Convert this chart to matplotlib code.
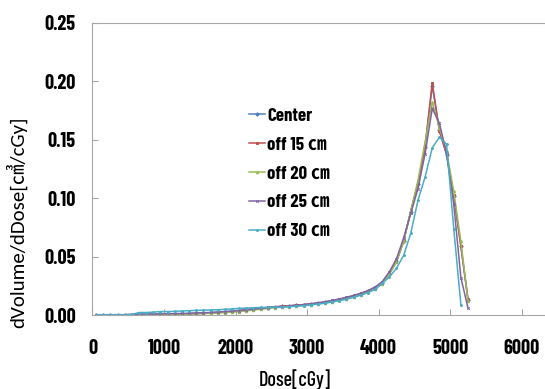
import matplotlib
matplotlib.use("Agg")
import matplotlib.pyplot as plt
import numpy as np

# dose bins (cGy), 100 cGy wide, plotted at the bin centre
dose = [50 + 100 * i for i in range(53)]

center = [0.0003, 0.0003, 0.0003, 0.0003, 0.0003, 0.0004, 0.0005, 0.0005, 0.0006, 0.0007,
          0.0008, 0.0009, 0.0010, 0.0012, 0.0014, 0.0016, 0.0019, 0.0023, 0.0027, 0.0032,
          0.0037, 0.0044, 0.0051, 0.0058, 0.0064, 0.0070, 0.0075, 0.0079, 0.0084, 0.0089,
          0.0095, 0.0102, 0.0111, 0.0121, 0.0133, 0.0147, 0.0163, 0.0182, 0.0204, 0.0231,
          0.0273, 0.0352, 0.0458, 0.0632, 0.0885, 0.1120, 0.1440, 0.1960, 0.1580, 0.1370,
          0.1020, 0.0590, 0.0130]
off15 = [0.0003, 0.0003, 0.0003, 0.0003, 0.0003, 0.0004, 0.0005, 0.0005, 0.0006, 0.0007,
         0.0008, 0.0009, 0.0010, 0.0012, 0.0014, 0.0016, 0.0019, 0.0023, 0.0027, 0.0032,
         0.0038, 0.0045, 0.0052, 0.0060, 0.0066, 0.0071, 0.0076, 0.0080, 0.0085, 0.0090,
         0.0096, 0.0103, 0.0112, 0.0122, 0.0134, 0.0148, 0.0164, 0.0183, 0.0205, 0.0232,
         0.0275, 0.0356, 0.0460, 0.0635, 0.0890, 0.1126, 0.1444, 0.1985, 0.1570, 0.1376,
         0.1026, 0.0590, 0.0134]
off20 = [0.0002, 0.0002, 0.0002, 0.0002, 0.0002, 0.0002, 0.0003, 0.0003, 0.0004, 0.0005,
         0.0006, 0.0007, 0.0008, 0.0009, 0.0011, 0.0013, 0.0015, 0.0018, 0.0021, 0.0025,
         0.0030, 0.0036, 0.0043, 0.0050, 0.0057, 0.0063, 0.0068, 0.0073, 0.0078, 0.0083,
         0.0089, 0.0096, 0.0104, 0.0114, 0.0126, 0.0140, 0.0156, 0.0175, 0.0197, 0.0225,
         0.0268, 0.0350, 0.0455, 0.0630, 0.0890, 0.1150, 0.1480, 0.1820, 0.1600, 0.1400,
         0.1060, 0.0630, 0.0120]
off25 = [0.0003, 0.0003, 0.0003, 0.0003, 0.0003, 0.0005, 0.0008, 0.0009, 0.0010, 0.0011,
         0.0012, 0.0013, 0.0014, 0.0016, 0.0018, 0.0020, 0.0023, 0.0026, 0.0030, 0.0034,
         0.0039, 0.0045, 0.0051, 0.0057, 0.0063, 0.0068, 0.0073, 0.0078, 0.0083, 0.0089,
         0.0096, 0.0104, 0.0114, 0.0125, 0.0138, 0.0152, 0.0168, 0.0187, 0.0210, 0.0240,
         0.0285, 0.0370, 0.0480, 0.0660, 0.0870, 0.1080, 0.1380, 0.1766, 0.1640, 0.1380,
         0.0950, 0.0320, 0.0060]
off30 = [0.0003, 0.0003, 0.0003, 0.0003, 0.0003, 0.0005, 0.0022, 0.0022, 0.0025, 0.0030,
         0.0030, 0.0032, 0.0035, 0.0038, 0.0040, 0.0042, 0.0044, 0.0046, 0.0049, 0.0053,
         0.0057, 0.0060, 0.0063, 0.0065, 0.0066, 0.0067, 0.0069, 0.0072, 0.0076, 0.0081,
         0.0087, 0.0094, 0.0102, 0.0112, 0.0123, 0.0136, 0.0152, 0.0170, 0.0192, 0.0220,
         0.0270, 0.0325, 0.0400, 0.0510, 0.0700, 0.0980, 0.1180, 0.1430, 0.1520, 0.1460,
         0.0740, 0.0090]

labels = ["Center", "off 15 ㎝", "off 20 ㎝", "off 25 ㎝", "off 30 ㎝"]
colors = ["#4F81BD", "#C0504D", "#9BBB59", "#8064A2", "#4BACC6"]
markers = ["D", "s", "^", "x", "*"]

xticks = [0, 1000, 2000, 3000, 4000, 5000, 6000]
yticks = [0.00, 0.05, 0.10, 0.15, 0.20, 0.25]

# condensed face for horizontal text (picture is squeezed sideways),
# normal width for the rotated y title; CJK font only for the ㎝ / ㎤ signs
fam = ["Barlow Condensed", "Noto Sans CJK KR", "DejaVu Sans"]
fam_rot = ["Carlito", "Noto Sans CJK KR", "DejaVu Sans"]

fig = plt.figure(figsize=(5.45, 3.89), dpi=100)
ax = fig.add_axes([0.1697, 0.190, 0.84, 0.752])

series = [center, off15, off20, off25, off30]
for ys, lab, c, m in zip(series, labels, colors, markers):
    ax.plot(dose[:len(ys)], ys, color=c, lw=1.1, marker=m, ms=1.8, mew=0.7, label=lab)

ax.set_xlim(0, 6400)
ax.set_ylim(0, 0.25)
ax.set_xticks(xticks)
ax.set_yticks(yticks)
ax.set_xticklabels([str(t) for t in xticks], family=fam, fontsize=14.5, fontweight="bold")
ax.set_yticklabels(["%.2f" % t for t in yticks], family=fam, fontsize=14.5, fontweight="bold")
ax.tick_params(direction="in", length=4, color="#A6A6A6")
ax.tick_params(axis="x", pad=17)
ax.tick_params(axis="y", pad=12)

for s in ["left", "bottom", "top"]:
    ax.spines[s].set_color("#A6A6A6")
ax.spines["right"].set_visible(False)

ax.set_xlabel("Dose[cGy]", family=fam, fontsize=14.5, fontweight="medium")
ax.set_ylabel("dVolume/dDose[㎤/cGy]", family=fam_rot, fontsize=15)
ax.xaxis.set_label_coords(0.443, -0.185)
ax.yaxis.set_label_coords(-0.142, 0.316)

leg = ax.legend(loc="upper left", bbox_to_anchor=(0.341, 0.71), frameon=False,
                handlelength=0.85, handletextpad=0.15, labelspacing=0.63,
                borderpad=0, borderaxespad=0,
                prop={"family": fam, "size": 13.5, "weight": "bold"})

fig.savefig("out.png", dpi=100)
